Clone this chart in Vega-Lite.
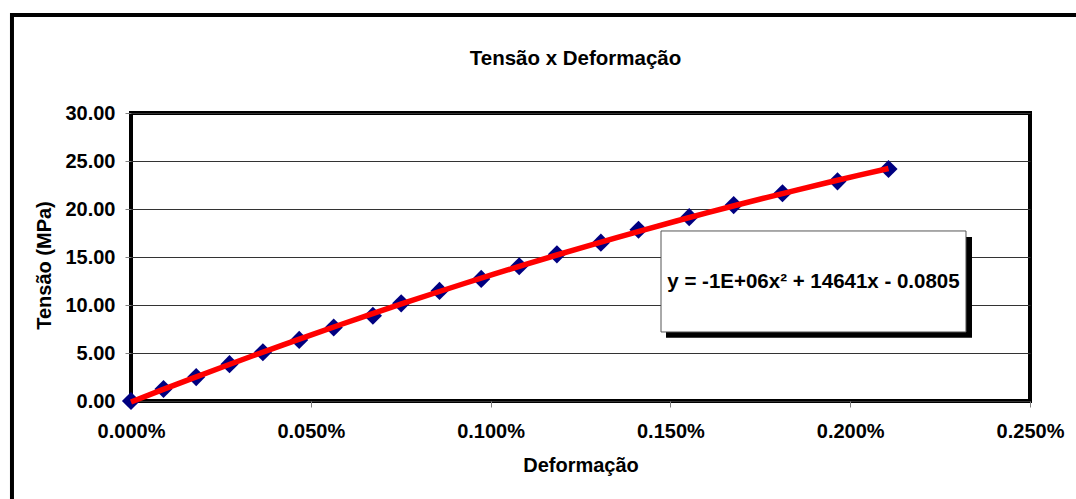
{
  "$schema": "https://vega.github.io/schema/vega-lite/v6.json",
  "width": 899,
  "height": 288,
  "autosize": {"type": "none"},
  "padding": {"left": 131, "top": 113, "right": 46, "bottom": 98},
  "background": "white",
  "config": {
    "view": {"stroke": "#000", "strokeWidth": 4},
    "font": "Liberation Sans",
    "axis": {
      "labelFont": "Liberation Sans",
      "labelFontSize": 20,
      "labelFontWeight": "bold",
      "labelColor": "#000",
      "titleFont": "Liberation Sans",
      "titleFontSize": 20,
      "titleFontWeight": "bold",
      "titleColor": "#000",
      "domain": false,
      "tickColor": "#808080",
      "tickWidth": 1,
      "labelFlush": false,
      "labelOverlap": false
    }
  },
  "data": {
    "values": [
      {"strain": 0.0, "stress": 0.0},
      {"strain": 0.0000904, "stress": 1.25},
      {"strain": 0.0001813, "stress": 2.49},
      {"strain": 0.0002739, "stress": 3.84},
      {"strain": 0.0003668, "stress": 5.08},
      {"strain": 0.0004677, "stress": 6.36},
      {"strain": 0.0005637, "stress": 7.66},
      {"strain": 0.0006727, "stress": 8.88},
      {"strain": 0.0007514, "stress": 10.17},
      {"strain": 0.0008579, "stress": 11.47},
      {"strain": 0.0009739, "stress": 12.72},
      {"strain": 0.0010795, "stress": 14.04},
      {"strain": 0.0011844, "stress": 15.28},
      {"strain": 0.0013067, "stress": 16.49},
      {"strain": 0.0014113, "stress": 17.84},
      {"strain": 0.0015523, "stress": 19.15},
      {"strain": 0.001676, "stress": 20.41},
      {"strain": 0.0018117, "stress": 21.64},
      {"strain": 0.0019647, "stress": 22.88},
      {"strain": 0.0021065, "stress": 24.17}
    ]
  },
  "layer": [
    {
      "mark": {"type": "point", "shape": "diamond", "filled": true, "color": "#000080", "size": 330, "opacity": 1},
      "encoding": {
        "x": {
          "field": "strain",
          "type": "quantitative",
          "scale": {"domain": [0, 0.0025], "nice": false, "zero": false},
          "axis": {
            "title": "Deformação",
            "values": [0, 0.0005, 0.001, 0.0015, 0.002, 0.0025],
            "format": ".3%",
            "grid": false,
            "tickSize": 6,
            "labelPadding": 14,
            "titlePadding": 14
          }
        },
        "y": {
          "field": "stress",
          "type": "quantitative",
          "scale": {"domain": [0, 30], "nice": false},
          "axis": {
            "title": "Tensão (MPa)",
            "values": [0, 5, 10, 15, 20, 25, 30],
            "format": ".2f",
            "grid": true,
            "gridColor": "#333",
            "gridWidth": 1,
            "tickSize": 6,
            "labelPadding": 10,
            "titlePadding": 10,
            "titleY": 152
          }
        }
      }
    },
    {
      "transform": [
        {"regression": "stress", "on": "strain", "method": "poly", "order": 2}
      ],
      "mark": {"type": "line", "color": "#ff0000", "strokeWidth": 5.5},
      "encoding": {
        "x": {"field": "strain", "type": "quantitative"},
        "y": {"field": "stress", "type": "quantitative"}
      }
    },
    {
      "data": {"values": [{}]},
      "mark": {"type": "rect", "fill": "transparent", "stroke": "#000", "strokeWidth": 4, "clip": false},
      "encoding": {
        "x": {"datum": -0.000331, "type": "quantitative"},
        "x2": {"datum": 0.0032},
        "y": {"datum": 40.2, "type": "quantitative"},
        "y2": {"datum": -14}
      }
    },
    {
      "data": {"values": [{}]},
      "mark": {"type": "text", "text": "Tensão x Deformação", "font": "Liberation Sans", "fontSize": 20.5, "fontWeight": "bold", "color": "#000", "align": "center", "baseline": "alphabetic"},
      "encoding": {
        "x": {"datum": 0.0012361, "type": "quantitative"},
        "y": {"datum": 35.0, "type": "quantitative"}
      }
    },
    {
      "data": {"values": [{}]},
      "mark": {"type": "rect", "fill": "#000"},
      "encoding": {
        "x": {"datum": 0.0014878, "type": "quantitative"},
        "x2": {"datum": 0.0023387},
        "y": {"datum": 17.08, "type": "quantitative"},
        "y2": {"datum": 6.59}
      }
    },
    {
      "data": {"values": [{}]},
      "mark": {"type": "rect", "fill": "#fff", "stroke": "#555", "strokeWidth": 1},
      "encoding": {
        "x": {"datum": 0.0014739, "type": "quantitative"},
        "x2": {"datum": 0.002322},
        "y": {"datum": 17.71, "type": "quantitative"},
        "y2": {"datum": 7.19}
      }
    },
    {
      "data": {"values": [{}]},
      "mark": {"type": "text", "text": "y = -1E+06x² + 14641x - 0.0805", "font": "Liberation Sans", "fontSize": 20.5, "fontWeight": "bold", "color": "#000", "align": "center", "baseline": "middle"},
      "encoding": {
        "x": {"datum": 0.0018979, "type": "quantitative"},
        "y": {"datum": 12.4, "type": "quantitative"}
      }
    }
  ]
}
